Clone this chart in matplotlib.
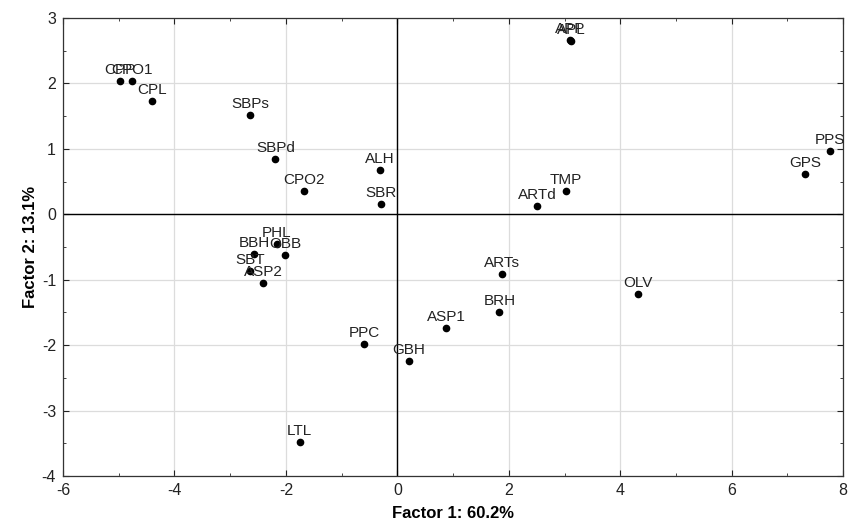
import matplotlib.pyplot as plt
from matplotlib.ticker import MultipleLocator

# sample labels and factor scores
labels = ["CPP", "CPO1", "CPL", "SBPs", "SBPd", "CPO2", "ALH", "SBR",
          "APP", "APL", "TMP", "ARTd", "PPS", "GPS",
          "PHL", "OBB", "BBH", "SBT", "ASP2", "ARTs", "OLV", "BRH",
          "ASP1", "PPC", "GBH", "LTL"]
factor1 = [-4.98, -4.76, -4.40, -2.64, -2.19, -1.67, -0.31, -0.29,
           3.10, 3.12, 3.03, 2.51, 7.77, 7.32,
           -2.16, -2.01, -2.57, -2.64, -2.41, 1.88, 4.32, 1.83,
           0.88, -0.60, 0.21, -1.75]
factor2 = [2.03, 2.03, 1.73, 1.51, 0.84, 0.35, 0.68, 0.16,
           2.66, 2.65, 0.36, 0.12, 0.96, 0.61,
           -0.45, -0.63, -0.61, -0.87, -1.05, -0.92, -1.22, -1.50,
           -1.74, -1.98, -2.24, -3.48]

plt.rcParams['font.family'] = ['Liberation Sans', 'DejaVu Sans']
plt.rcParams['axes.unicode_minus'] = False

fig = plt.figure(figsize=(8.49, 5.26), dpi=100)
ax = fig.add_axes([0.0742, 0.095, 0.919, 0.871])

ax.set_xlim(-6, 8)
ax.set_ylim(-4, 3)
ax.xaxis.set_major_locator(MultipleLocator(2))
ax.xaxis.set_minor_locator(MultipleLocator(1))
ax.yaxis.set_major_locator(MultipleLocator(1))
ax.yaxis.set_minor_locator(MultipleLocator(0.5))
ax.grid(True, which='major', color='#dcdcdc', linewidth=0.9)
ax.set_axisbelow(True)
ax.tick_params(which='both', direction='in', top=True, right=True,
               labelsize=11.5, colors='#222222', pad=5)
ax.tick_params(which='major', length=4)
ax.tick_params(which='minor', length=2.5)
for s in ax.spines.values():
    s.set_linewidth(0.9)
    s.set_color('#333333')

ax.axhline(0, color='black', linewidth=1)
ax.axvline(0, color='black', linewidth=1)

ax.plot(factor1, factor2, 'o', color='black', markersize=4.5, zorder=3)
for lab, x, y in zip(labels, factor1, factor2):
    ax.annotate(lab, (x, y), xytext=(0, 3), textcoords='offset points',
                ha='center', va='bottom', fontsize=11, color='#222222')

ax.set_xlabel("Factor 1: 60.2%", fontsize=12, fontweight='bold', labelpad=6)
ax.set_ylabel("Factor 2: 13.1%", fontsize=12, fontweight='bold', labelpad=3)

fig.savefig("out.png", dpi=100)
